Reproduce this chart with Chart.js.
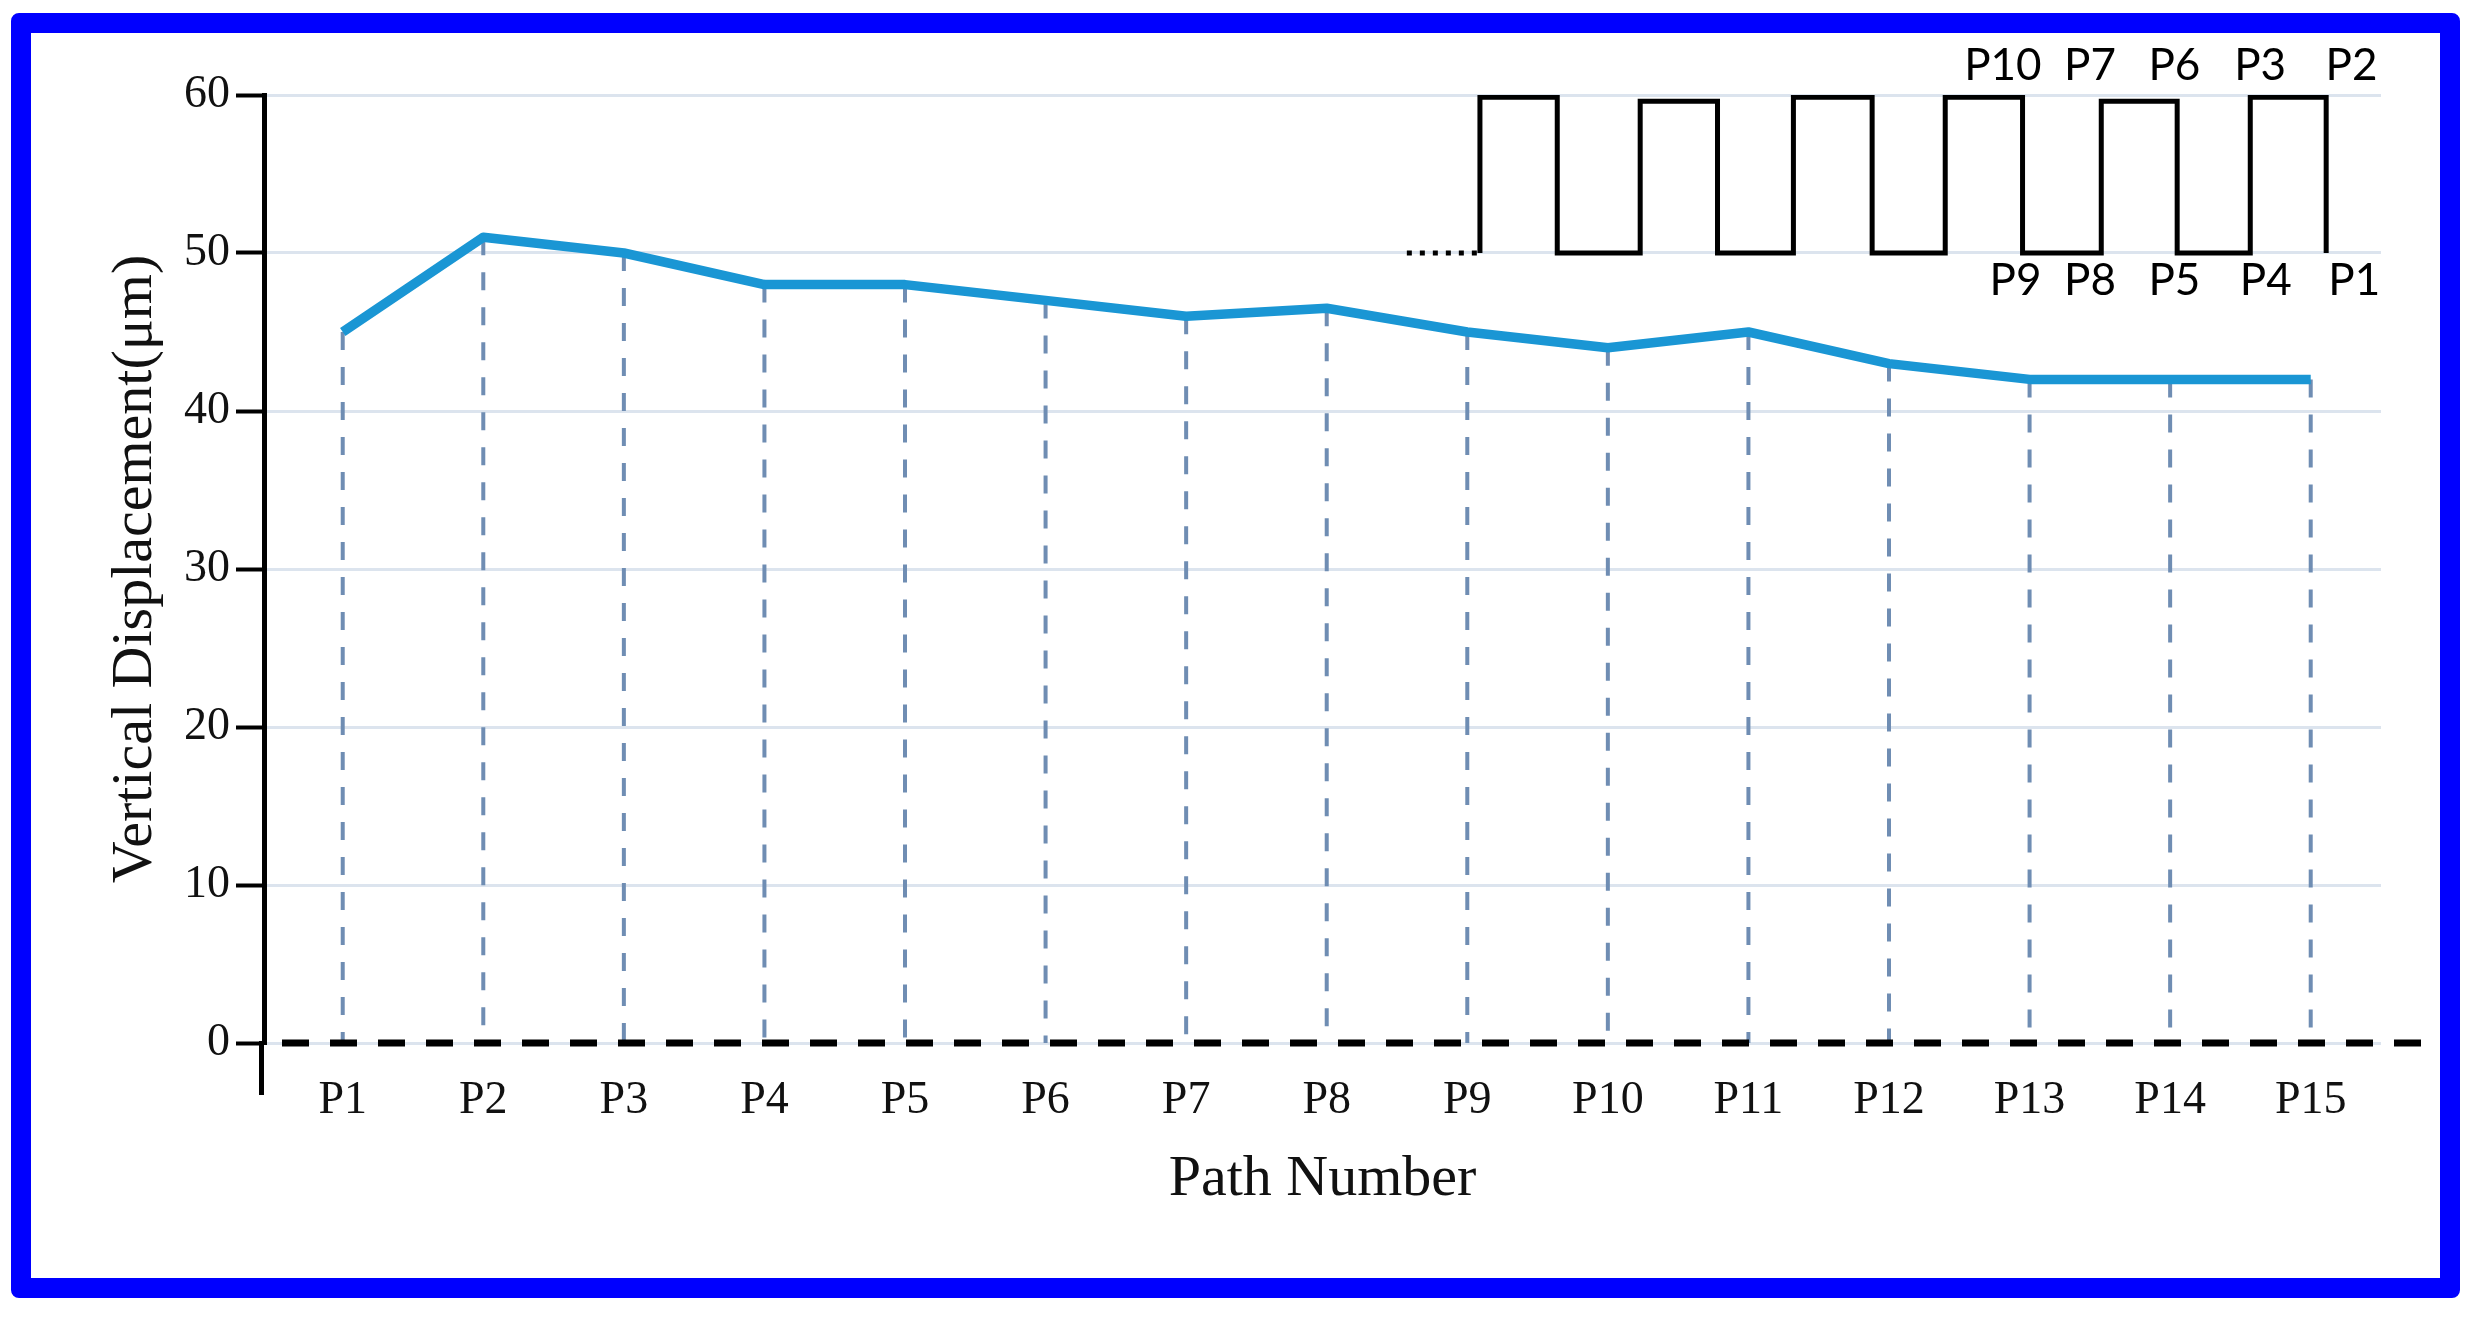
<!DOCTYPE html>
<html><head><meta charset="utf-8">
<script src="https://cdn.jsdelivr.net/npm/chart.js@4/dist/chart.umd.min.js"></script>
<style>
html,body{margin:0;padding:0;background:#fff;width:2478px;height:1318px;overflow:hidden}
#wrap{position:absolute;left:0;top:0;width:2478px;height:1318px}
#frame{position:absolute;left:11px;top:13px;width:2449px;height:1285px;box-sizing:border-box;border:20px solid #0000ff;border-radius:8px;pointer-events:none}
</style></head><body>
<div id="wrap"><canvas id="c" width="2478" height="1318"></canvas></div>
<div id="frame"></div>
<script>
// ---- data ----
const categories = ['P1','P2','P3','P4','P5','P6','P7','P8','P9','P10','P11','P12','P13','P14','P15'];
const displacement = [45, 51, 50, 48, 48, 47, 46, 46.5, 45, 44, 45, 43, 42, 42, 42];
const yTicks = [0, 10, 20, 30, 40, 50, 60];
// inset square-wave (path order sketch), x in path-index units, y in µm levels
const insetEdges = [8.09, 8.64, 9.23, 9.78, 10.32, 10.88, 11.40, 11.95, 12.51, 13.05, 13.57, 14.11];
const insetHigh = [59.85, 59.6, 59.85, 59.85, 59.6, 59.85];
const insetLow = 50;
const insetLeadStart = 7.57;
const insetTopLabels = ['P10', 'P7', 'P6', 'P3', 'P2'];
const insetTopAt = [11.81, 12.43, 13.03, 13.64, 14.29];
const insetBottomLabels = ['P9', 'P8', 'P5', 'P4', 'P1'];
const insetBottomAt = [11.90, 12.43, 13.03, 13.68, 14.31];

// build datasets' points from the arrays
const linePoints = displacement.map((v, i) => ({x: i, y: v}));
const wavePoints = [];
for (let k = 0; k < insetHigh.length; k++) {
  const a = insetEdges[2 * k], b = insetEdges[2 * k + 1];
  wavePoints.push({x: a, y: insetLow}, {x: a, y: insetHigh[k]}, {x: b, y: insetHigh[k]}, {x: b, y: insetLow});
}
const leadPoints = [{x: insetLeadStart, y: insetLow}, {x: insetEdges[0], y: insetLow}];

const SERIF = "'Liberation Serif', 'Times New Roman', serif";

const dropLines = {
  id: 'dropLines',
  beforeDatasetsDraw(chart) {
    const ctx = chart.ctx, y = chart.scales.y;
    const meta = chart.getDatasetMeta(0);
    const y0 = y.getPixelForValue(0);
    ctx.save();
    ctx.strokeStyle = '#6f8db3';
    ctx.lineWidth = 4;
    ctx.setLineDash([18, 17]);
    meta.data.forEach(p => {
      ctx.beginPath();
      ctx.moveTo(p.x, p.y);
      ctx.lineTo(p.x, y0);
      ctx.stroke();
    });
    // dashed zero line
    const area = chart.chartArea;
    ctx.strokeStyle = '#000';
    ctx.lineWidth = 7;
    ctx.setLineDash([27, 21]);
    ctx.beginPath();
    ctx.moveTo(area.left + 18, y0);
    ctx.lineTo(area.right + 41, y0);
    ctx.stroke();
    ctx.restore();
  }
};

const axisExtend = {
  id: 'axisExtend',
  afterDraw(chart) {
    const ctx = chart.ctx, area = chart.chartArea;
    ctx.save();
    ctx.strokeStyle = '#000';
    ctx.lineWidth = 5;
    ctx.beginPath();
    ctx.moveTo(area.left - 2.5, area.bottom - 2);
    ctx.lineTo(area.left - 2.5, area.bottom + 52);
    ctx.stroke();
    ctx.restore();
  }
};

const insetLabels = {
  id: 'insetLabels',
  afterDatasetsDraw(chart) {
    const ctx = chart.ctx, x = chart.scales.x, y = chart.scales.y;
    ctx.save();
    ctx.fillStyle = '#000';
    ctx.font = "44px Lato, 'Noto Sans', sans-serif";
    ctx.textAlign = 'center';
    ctx.textBaseline = 'middle';
    const yt = y.getPixelForValue(60) - 29;
    const yb = y.getPixelForValue(insetLow) + 28;
    insetTopLabels.forEach((t, i) => ctx.fillText(t, x.getPixelForValue(insetTopAt[i]), yt));
    insetBottomLabels.forEach((t, i) => ctx.fillText(t, x.getPixelForValue(insetBottomAt[i]), yb));
    ctx.restore();
  }
};

new Chart(document.getElementById('c'), {
  type: 'line',
  data: {
    datasets: [
      {data: linePoints, borderColor: '#1a96d4', borderWidth: 9.5, pointRadius: 0, tension: 0,
       borderJoinStyle: 'round'},
      {data: wavePoints, borderColor: '#000', borderWidth: 5, pointRadius: 0, tension: 0,
       borderJoinStyle: 'miter', borderCapStyle: 'butt'},
      {data: leadPoints, borderColor: '#000', borderWidth: 5, pointRadius: 0, borderDash: [5, 8]}
    ]
  },
  options: {
    responsive: false,
    devicePixelRatio: 1,
    animation: false,
    events: [],
    layout: {padding: {top: 95, right: 97, left: 0, bottom: 0}},
    plugins: {legend: {display: false}, tooltip: {enabled: false}},
    scales: {
      x: {
        type: 'linear',
        min: -0.56, max: 14.5,
        afterBuildTicks(s) { s.ticks = categories.map((c, i) => ({value: i})); },
        grid: {display: false, drawTicks: false},
        border: {display: false},
        ticks: {font: {family: SERIF, size: 46}, color: '#111', padding: 30, maxRotation: 0, autoSkip: false,
                callback: (v) => categories[v]},
        title: {display: true, text: 'Path Number', font: {family: SERIF, size: 58}, color: '#111',
                padding: {top: 0, bottom: 103}},
        afterFit(s) { s.height = 275; s.paddingLeft = 0; s.paddingRight = 0; }
      },
      y: {
        min: 0, max: 60,
        afterBuildTicks(s) { s.ticks = yTicks.map(v => ({value: v})); },
        grid: {color: '#dce4ee', lineWidth: 3, tickLength: 28, tickColor: '#000', tickWidth: 4},
        border: {display: true, color: '#000', width: 5},
        ticks: {font: {family: SERIF, size: 46}, color: '#111', padding: 6},
        title: {display: true, text: 'Vertical Displacement(μm)', font: {family: SERIF, size: 58}, color: '#111',
                padding: {top: 101, bottom: 0}},
        afterFit(s) { s.width = 264; s.paddingTop = 0; s.paddingBottom = 0; }
      }
    }
  },
  plugins: [dropLines, axisExtend, insetLabels]
});
</script>
</body></html>
